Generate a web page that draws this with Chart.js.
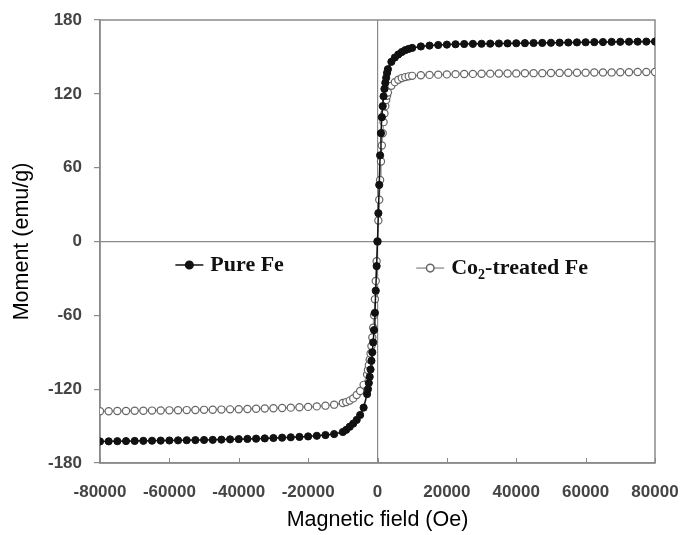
<!DOCTYPE html>
<html>
<head>
<meta charset="utf-8">
<script src="https://cdn.jsdelivr.net/npm/chart.js@4.4.1/dist/chart.umd.min.js"></script>
<style>
	html, body { margin: 0; padding: 0; background: #fff; }
	#wrap { width: 684px; height: 535px; }
</style>
</head>
<body>
<div id="wrap"><canvas id="hyst" width="684" height="535"></canvas></div>
<script>
// applied field (Oe), shared by both samples
const fieldOe = [
	-80000, -77500, -75000, -72500, -70000, -67500, -65000, -62500, -60000, -57500,
	-55000, -52500, -50000, -47500, -45000, -42500, -40000, -37500, -35000, -32500,
	-30000, -27500, -25000, -22500, -20000, -17500, -15000, -12500,
	-10000, -9000, -8000, -7000, -6000, -5000, -4000,
	-3000, -2750, -2500, -2250, -2000, -1750, -1500, -1250, -1000, -750, -500, -250,
	0, 250, 500, 750, 1000, 1250, 1500, 1750, 2000, 2250, 2500, 2750, 3000,
	4000, 5000, 6000, 7000, 8000, 9000, 10000,
	12500, 15000, 17500, 20000, 22500, 25000, 27500, 30000, 32500, 35000,
	37500, 40000, 42500, 45000, 47500, 50000, 52500, 55000, 57500, 60000,
	62500, 65000, 67500, 70000, 72500, 75000, 77500, 80000,
];
// moment (emu/g)
const pureFe = [
	-162.5, -162.4, -162.3, -162.2, -162.1, -162.0, -161.9, -161.8, -161.7, -161.6,
	-161.5, -161.4, -161.3, -161.2, -161.0, -160.8, -160.6, -160.4, -160.2, -160.0,
	-159.7, -159.4, -159.1, -158.8, -158.4, -157.9, -157.3, -156.5,
	-154.8, -153.0, -150.5, -148.0, -145.0, -141.0, -135.0,
	-124.0, -120.0, -115.0, -110.0, -104.0, -97.0, -90.0, -82.0, -72.0, -58.0, -40.0, -20.0,
	0, 23, 46, 70, 88, 101, 110, 118, 124, 129, 133, 137, 140,
	146, 149.5, 152, 154, 155.5, 156.5, 157.3,
	158.5, 159.2, 159.7, 160.0, 160.3, 160.5, 160.6, 160.7, 160.8, 160.9,
	161.0, 161.1, 161.2, 161.3, 161.4, 161.5, 161.6, 161.7, 161.8, 161.9,
	162.0, 162.1, 162.2, 162.3, 162.35, 162.4, 162.45, 162.5,
];
const co2Fe = [
	-138.0, -137.9, -137.8, -137.7, -137.6, -137.5, -137.4, -137.3, -137.2, -137.1,
	-137.0, -136.9, -136.8, -136.7, -136.6, -136.4, -136.3, -136.1, -135.9, -135.7,
	-135.5, -135.3, -135.0, -134.7, -134.4, -134.0, -133.4, -132.6,
	-131.3, -130.5, -129.3, -127.5, -124.8, -121.5, -116.5,
	-108.0, -104.5, -100.5, -96.0, -91.0, -85.0, -78.0, -70.0, -60.0, -47.0, -32.0, -16.0,
	0, 17, 34, 50, 65, 78, 88, 97, 104, 110, 115, 118.5, 121,
	126.5, 129.5, 131.5, 132.8, 133.6, 134.2, 134.6,
	135.1, 135.4, 135.6, 135.8, 136.0, 136.1, 136.2, 136.3, 136.4, 136.5,
	136.5, 136.6, 136.7, 136.8, 136.8, 136.9, 137.0, 137.1, 137.1, 137.2,
	137.3, 137.4, 137.4, 137.5, 137.6, 137.7, 137.7, 137.8,
];
const seriesNames = ["Pure Fe", "Co2-treated Fe"];
const xTicks = [-80000, -60000, -40000, -20000, 0, 20000, 40000, 60000, 80000];
const yTicks = [-180, -120, -60, 0, 60, 120, 180];

const AXIS_GRAY = "#8a8a8a";
const TICK_FONT = { family: "'Liberation Sans', Arial, sans-serif", size: 17, weight: "bold" };
const TITLE_FONT = { family: "'Liberation Sans', Arial, sans-serif", size: 21.5 };
const LEGEND_FONT = "'Liberation Serif', 'Times New Roman', serif";

const toPoints = (ys) => fieldOe.map((h, i) => ({ x: h, y: ys[i] }));

// frame on top/right plus inward ticks on the bottom axis
const framePlugin = {
	id: "frame",
	beforeDatasetsDraw(chart) {
		const { ctx, chartArea: { top, bottom, left, right }, scales: { x } } = chart;
		ctx.save();
		ctx.strokeStyle = AXIS_GRAY;
		ctx.lineWidth = 1.5;
		ctx.strokeRect(left, top, right - left, bottom - top);
		ctx.lineWidth = 1;
		for (const v of xTicks) {
			const px = Math.round(x.getPixelForValue(v)) + 0.5;
			ctx.beginPath();
			ctx.moveTo(px, bottom);
			ctx.lineTo(px, bottom - 5);
			ctx.stroke();
		}
		ctx.restore();
	},
};

// two legend entries floating inside the plot
const legendPlugin = {
	id: "inlineLegend",
	afterDraw(chart) {
		const { ctx, chartArea: { top, bottom, left, right } } = chart;
		const w = right - left, h = bottom - top;
		const entries = [
			{ ds: chart.data.datasets[0], fx: 0.161, fy: 0.553 },
			{ ds: chart.data.datasets[1], fx: 0.595, fy: 0.56 },
		];
		ctx.save();
		ctx.font = "bold 22px " + LEGEND_FONT;
		ctx.textBaseline = "middle";
		entries.forEach((e, i) => {
			const cx = left + w * e.fx;
			const cy = top + h * e.fy;
			ctx.strokeStyle = e.ds.borderColor;
			ctx.lineWidth = 1.5;
			ctx.beginPath();
			ctx.moveTo(cx - 14, cy);
			ctx.lineTo(cx + 14, cy);
			ctx.stroke();
			ctx.beginPath();
			ctx.arc(cx, cy, 3.8, 0, Math.PI * 2);
			ctx.fillStyle = e.ds.pointBackgroundColor;
			ctx.fill();
			ctx.strokeStyle = e.ds.pointBorderColor;
			ctx.stroke();
			ctx.fillStyle = "#111";
			let tx = cx + 21;
			if (i === 0) {
				ctx.fillText(seriesNames[0], tx, cy);
			} else {
				ctx.fillText("Co", tx, cy);
				tx += ctx.measureText("Co").width;
				ctx.font = "bold 14px " + LEGEND_FONT;
				ctx.fillText("2", tx, cy + 7);
				tx += ctx.measureText("2").width;
				ctx.font = "bold 22px " + LEGEND_FONT;
				ctx.fillText("-treated Fe", tx, cy);
			}
		});
		ctx.restore();
	},
};

new Chart(document.getElementById("hyst"), {
	type: "scatter",
	data: {
		datasets: [
			{
				label: seriesNames[0],
				data: toPoints(pureFe),
				showLine: true,
				borderColor: "#111",
				borderWidth: 1.5,
				pointRadius: 3.6,
				pointBackgroundColor: "#111",
				pointBorderColor: "#111",
				pointBorderWidth: 1,
			},
			{
				label: seriesNames[1],
				data: toPoints(co2Fe),
				showLine: true,
				borderColor: "#9a9a9a",
				borderWidth: 1.5,
				pointRadius: 3.6,
				pointBackgroundColor: "#fff",
				pointBorderColor: "#666",
				pointBorderWidth: 1.2,
			},
		],
	},
	plugins: [framePlugin, legendPlugin],
	options: {
		responsive: false,
		animation: false,
		layout: { padding: { top: 20, right: 29, left: 0, bottom: 0 } },
		plugins: {
			legend: { display: false },
			tooltip: { enabled: false },
		},
		scales: {
			x: {
				type: "linear",
				min: -80000,
				max: 80000,
				afterBuildTicks: (s) => { s.ticks = xTicks.map((v) => ({ value: v })); },
				afterFit: (s) => { s.height = 72; s.paddingLeft = 0; s.paddingRight = 0; },
				ticks: {
					font: TICK_FONT, color: "#444", padding: 19, maxRotation: 0, autoSkip: false,
					callback: (v) => String(v),
				},
				grid: {
					drawTicks: false,
					color: (c) => (c.tick && c.tick.value === 0 ? AXIS_GRAY : "rgba(0,0,0,0)"),
					lineWidth: 1.2,
				},
				border: { display: true, color: AXIS_GRAY, width: 1.5 },
				title: { display: true, text: "Magnetic field (Oe)", font: TITLE_FONT, color: "#000", padding: { bottom: 2 } },
			},
			y: {
				type: "linear",
				min: -180,
				max: 180,
				afterBuildTicks: (s) => { s.ticks = yTicks.map((v) => ({ value: v })); },
				afterFit: (s) => { s.width = 100; s.paddingTop = 0; s.paddingBottom = 0; },
				ticks: { font: TICK_FONT, color: "#444", padding: 12, callback: (v) => String(v) },
				grid: {
					tickLength: 6,
					tickColor: AXIS_GRAY,
					color: (c) => (c.tick && c.tick.value === 0 ? AXIS_GRAY : "rgba(0,0,0,0)"),
					lineWidth: 1.2,
				},
				border: { display: true, color: AXIS_GRAY, width: 1.5 },
				title: { display: true, text: "Moment (emu/g)", font: TITLE_FONT, color: "#000", padding: { top: 9 } },
			},
		},
	},
});
</script>
</body>
</html>
